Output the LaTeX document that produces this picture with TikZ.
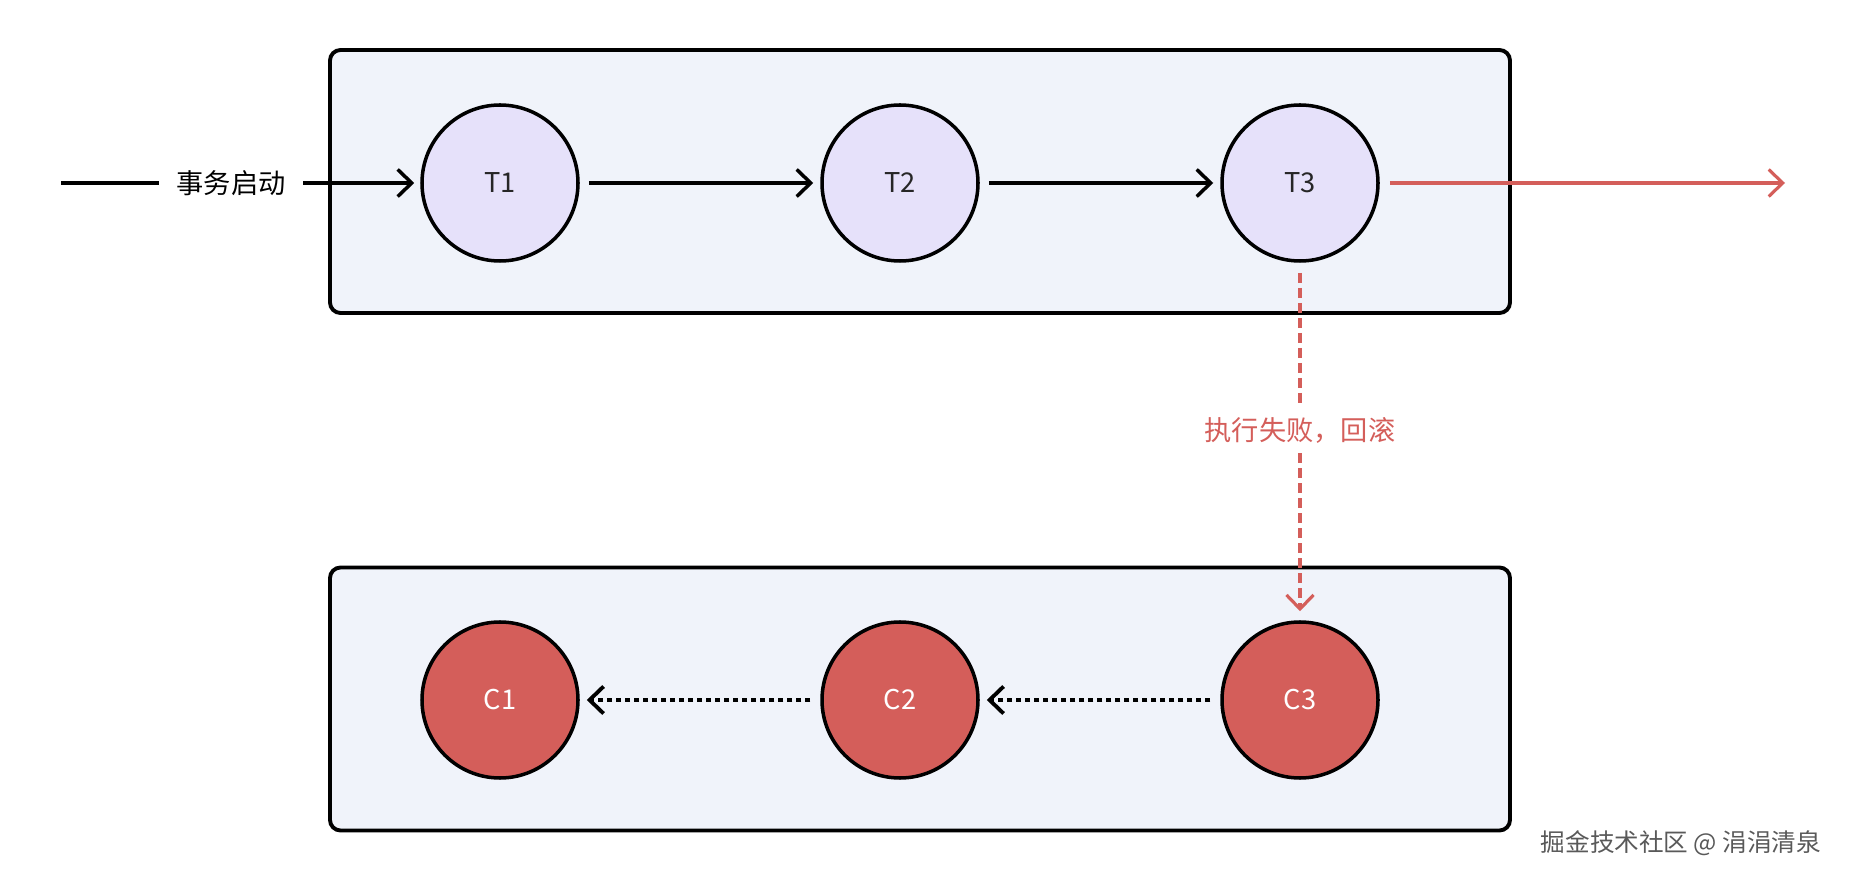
\documentclass[tikz,border=0pt]{standalone}
\usepackage{fontspec}
\setmainfont{Noto Sans CJK SC}
\usetikzlibrary{arrows.meta}
\definecolor{panelfill}{RGB}{240,243,250}
\definecolor{stepfill}{RGB}{230,225,250}
\definecolor{failred}{RGB}{212,94,90}
\begin{document}
\begin{tikzpicture}[
    panel/.style={rectangle, draw, line width=2.2pt, rounded corners=6pt, fill=panelfill, minimum width=23.6cm, minimum height=5.26cm},
    txnode/.style={circle, draw, line width=2pt, minimum size=3.12cm, fill=stepfill, text=black!85, font=\fontsize{15.5}{18}\selectfont},
    cpnode/.style={txnode, fill=failred, text=white},
    arrow/.style={-{Straight Barb[length=0.28cm,width=0.54cm]}, line width=2pt},
    label/.style={font=\fontsize{15.5}{18}\selectfont}
]
\useasboundingbox (0,0) rectangle (37,17.6);

% Panels
\node[panel] (tpanel) at (18.4,13.97) {};
\node[panel] (cpanel) at (18.4,3.62) {};

% Steps
\node[txnode] (T1) at (10,13.94) {T1};
\node[txnode] (T2) at (18,13.94) {T2};
\node[txnode] (T3) at (26,13.94) {T3};
\node[cpnode] (C1) at (10,3.6) {C1};
\node[cpnode] (C2) at (18,3.6) {C2};
\node[cpnode] (C3) at (26,3.6) {C3};

% Labels
\coordinate (start) at (1.22,13.94);
\coordinate (done) at (35.7,13.94);
\node[label, inner xsep=0.35cm] (begin) at (4.62,13.94) {事务启动};
\node[label, text=failred, inner sep=0.2cm] (fail) at (26,9.0) {执行失败，回滚};
\node[font=\fontsize{14}{17}\selectfont, text=black!65] (credit) at (33.62,0.74) {掘金技术社区 @ 涓涓清泉};

% Arrows
\draw[line width=2pt] (start) -- (begin);
\draw[arrow, shorten >=0.12cm] (begin) -- (T1);
\draw[arrow, shorten <=0.18cm, shorten >=0.14cm] (T1) -- (T2);
\draw[arrow, shorten <=0.18cm, shorten >=0.14cm] (T2) -- (T3);
\draw[arrow, failred, line width=1.8pt, shorten <=0.2cm] (T3) -- (done);
\draw[failred, line width=1.8pt, dash pattern=on 0.2cm off 0.1cm, shorten <=0.2cm] (T3) -- (fail);
\draw[arrow, failred, line width=1.8pt, dash pattern=on 0.2cm off 0.1cm, shorten >=0.18cm] (fail) -- (C3);
\draw[arrow, dash pattern=on 0.1cm off 0.08cm, line width=2.2pt, shorten <=0.2cm, shorten >=0.14cm] (C3) -- (C2);
\draw[arrow, dash pattern=on 0.1cm off 0.08cm, line width=2.2pt, shorten <=0.2cm, shorten >=0.14cm] (C2) -- (C1);
\end{tikzpicture}
\end{document}
